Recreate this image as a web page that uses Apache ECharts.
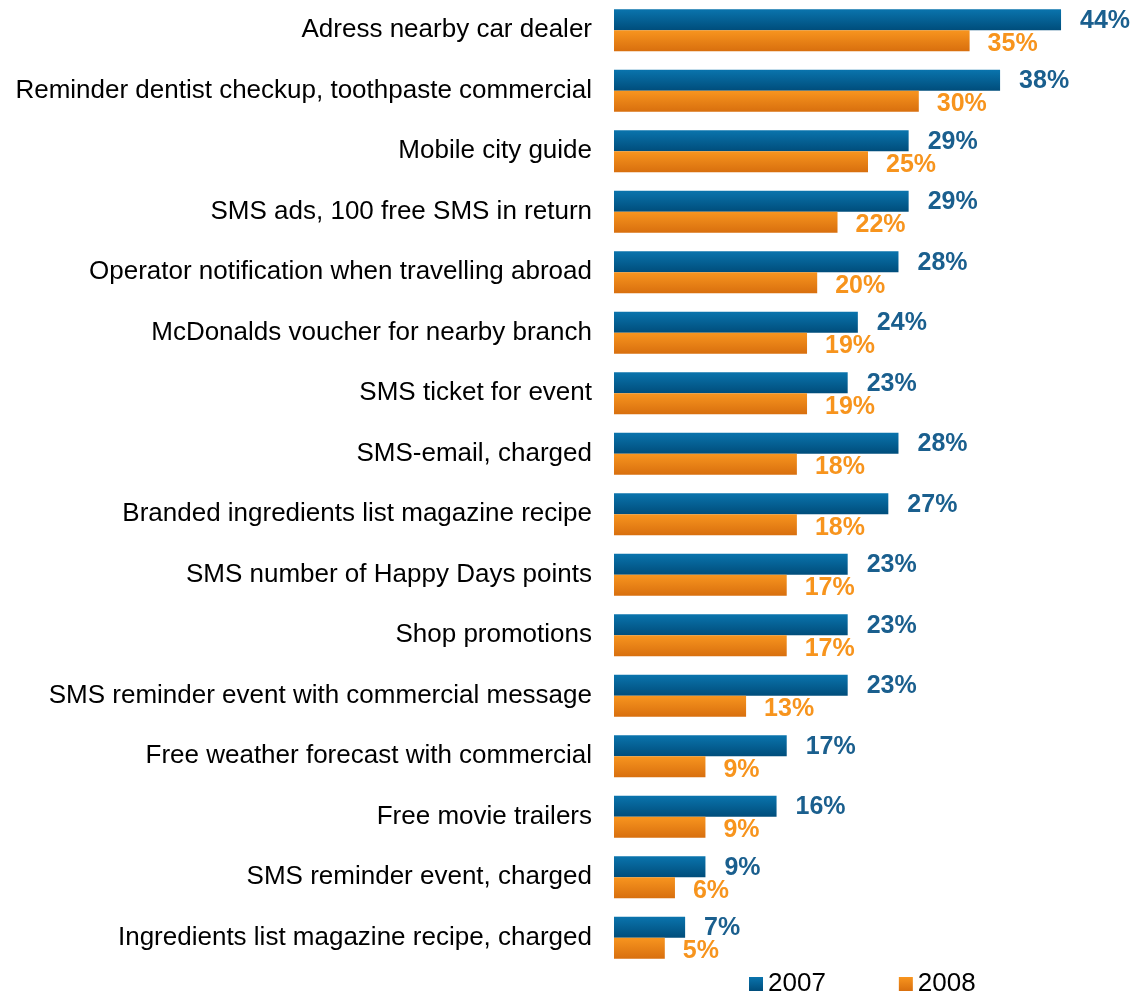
<!DOCTYPE html>
<html>
<head>
<meta charset="utf-8">
<script src="https://cdn.jsdelivr.net/npm/echarts@6/dist/echarts.min.js"></script>
<style>
  html, body { margin: 0; padding: 0; background: #ffffff; }
  #chart { width: 1138px; height: 995px; }
</style>
</head>
<body>
<div id="chart"></div>
<script>
// Mobile marketing scenarios: share of respondents accepting each, by year
const categories = [
  "Adress nearby car dealer",
  "Reminder dentist checkup, toothpaste commercial",
  "Mobile city guide",
  "SMS ads, 100 free SMS in return",
  "Operator notification when travelling abroad",
  "McDonalds voucher for nearby branch",
  "SMS ticket for event",
  "SMS-email, charged",
  "Branded ingredients list magazine recipe",
  "SMS number of Happy Days points",
  "Shop promotions",
  "SMS reminder event with commercial message",
  "Free weather forecast with commercial",
  "Free movie trailers",
  "SMS reminder event, charged",
  "Ingredients list magazine recipe, charged"
];
const values2007 = [44, 38, 29, 29, 28, 24, 23, 28, 27, 23, 23, 23, 17, 16, 9, 7];
const values2008 = [35, 30, 25, 22, 20, 19, 19, 18, 18, 17, 17, 13, 9, 9, 6, 5];
const seriesNames = ["2007", "2008"];

const FONT = "'Liberation Sans', Arial, sans-serif";

function vGrad(top, bottom) {
  return new echarts.graphic.LinearGradient(0, 0, 0, 1, [
    { offset: 0, color: top },
    { offset: 1, color: bottom }
  ]);
}

const chart = echarts.init(document.getElementById('chart'), null, { renderer: 'canvas' });

chart.setOption({
  animation: false,
  backgroundColor: '#ffffff',
  grid: { left: 614, top: -2, width: 508, height: 970, containLabel: false },
  xAxis: {
    type: 'value',
    min: 0,
    max: 50,
    show: false
  },
  yAxis: {
    type: 'category',
    data: categories,
    inverse: true,
    axisLine: { show: false },
    axisTick: { show: false },
    splitLine: { show: false },
    axisLabel: {
      margin: 22,
      fontFamily: FONT,
      fontSize: 26,
      color: '#000000'
    }
  },
  legend: {
    left: 749,
    top: 969,
    padding: 0,
    itemWidth: 14,
    itemHeight: 14,
    itemGap: 73,
    icon: 'rect',
    textStyle: { fontFamily: FONT, fontSize: 26, lineHeight: 30, color: '#000000' },
    data: seriesNames
  },
  series: [
    {
      name: seriesNames[0],
      type: 'bar',
      data: values2007,
      barWidth: 21,
      barGap: '0%',
      itemStyle: { color: vGrad('#0A74AD', '#004D7B') },
      label: {
        show: true,
        position: 'right',
        distance: 19,
        formatter: '{c}%',
        fontFamily: FONT,
        fontSize: 25,
        fontWeight: 'bold',
        color: '#1A5F8E',
        offset: [0, 1]
      }
    },
    {
      name: seriesNames[1],
      type: 'bar',
      data: values2008,
      barWidth: 21,
      itemStyle: { color: vGrad('#F8951F', '#D86F0E') },
      label: {
        show: true,
        position: 'right',
        distance: 18,
        formatter: '{c}%',
        fontFamily: FONT,
        fontSize: 25,
        fontWeight: 'bold',
        color: '#F7941D',
        offset: [0, 3]
      }
    }
  ]
});
</script>
</body>
</html>
